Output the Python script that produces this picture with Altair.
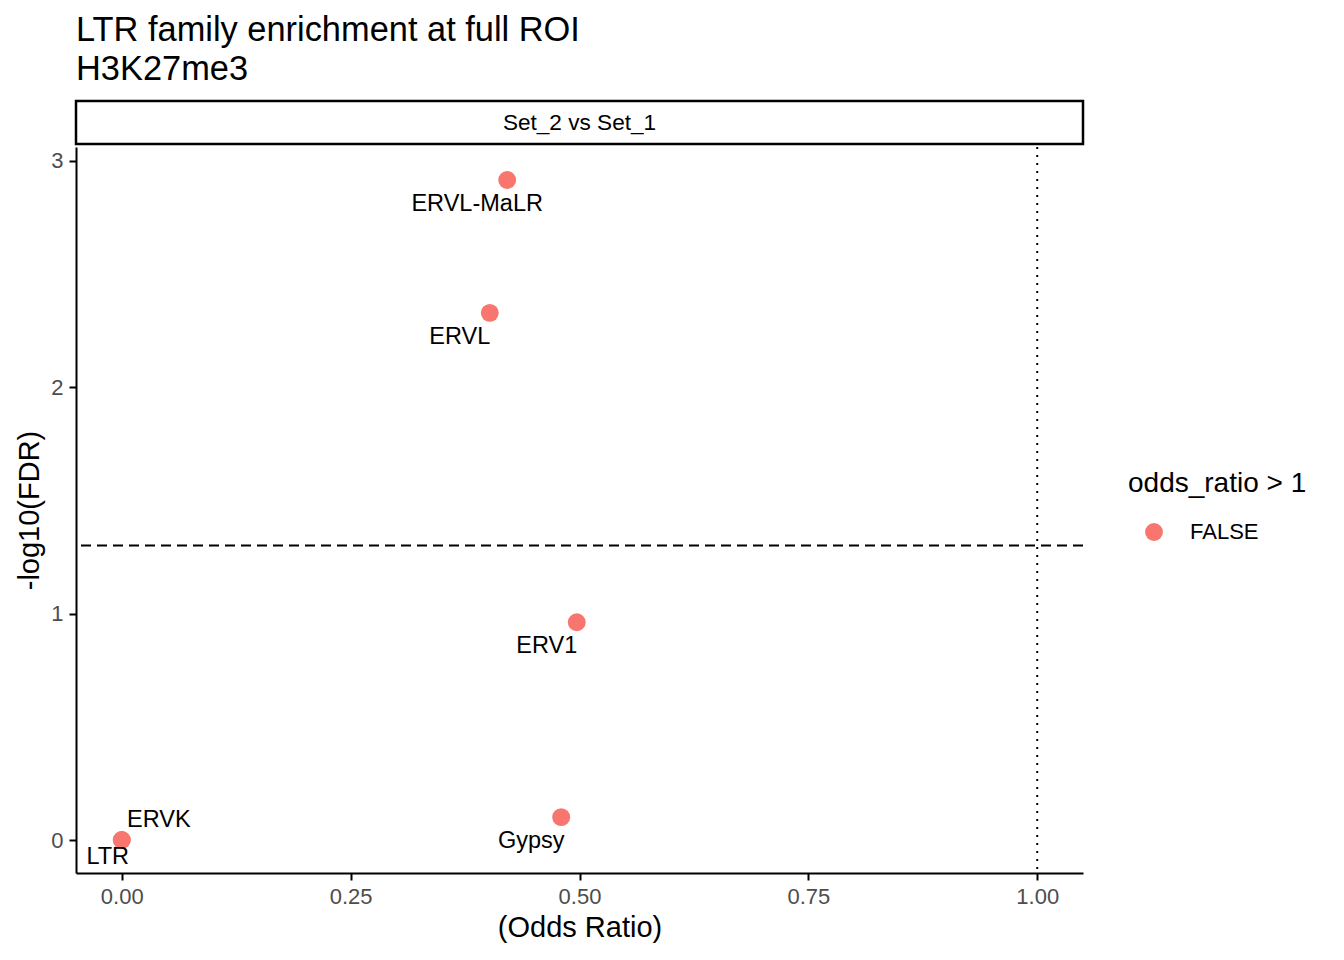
import altair as alt
import pandas as pd

# ---- data ----
families = ["ERVL-MaLR", "ERVL", "ERV1", "Gypsy", "ERVK", "LTR"]
odds_ratio = [0.421, 0.402, 0.497, 0.480, 0.0, 0.0]
neg_log10_fdr = [2.916, 2.329, 0.962, 0.101, 0.0, 0.0]
or_gt_1 = ["FALSE", "FALSE", "FALSE", "FALSE", "FALSE", "FALSE"]
facet_label = ["Set_2 vs Set_1"]
fdr_line = [1.30103]   # -log10(0.05)
or_line = [1.0]
x_ticks = [0.0, 0.25, 0.5, 0.75, 1.0]
y_ticks = [0, 1, 2, 3]

df = pd.DataFrame({
    "family": families,
    "odds_ratio": odds_ratio,
    "fdr": neg_log10_fdr,
    "gt1": or_gt_1,
})

W, H = 1007, 726
FONT = "Liberation Sans"

# ggplot-like 5% expansion
xr = [min(odds_ratio + or_line), max(odds_ratio + or_line)]
xpad = (xr[1] - xr[0]) * 0.05
yr = [min(neg_log10_fdr), max(neg_log10_fdr)]
ypad = (yr[1] - yr[0]) * 0.05

x = alt.X("odds_ratio:Q",
          scale=alt.Scale(domain=[xr[0] - xpad, xr[1] + xpad], nice=False, zero=False),
          axis=alt.Axis(values=x_ticks, format=".2f", title="(Odds Ratio)"))
y = alt.Y("fdr:Q",
          scale=alt.Scale(domain=[yr[0] - ypad, yr[1] + ypad], nice=False, zero=False),
          axis=alt.Axis(values=y_ticks, format="d", title="-log10(FDR)"))

base = alt.Chart(df)

points = base.mark_circle(size=320, opacity=1).encode(
    x=x, y=y,
    color=alt.Color("gt1:N",
                    scale=alt.Scale(domain=["FALSE"], range=["#F8766D"]),
                    legend=alt.Legend(title="odds_ratio > 1", orient="none",
                                      legendX=1052, legendY=369)),
)

hline = alt.Chart(pd.DataFrame({"fdr": fdr_line})).mark_rule(
    color="black", strokeWidth=2, strokeDash=[10, 6]).encode(y="fdr:Q")
vline = alt.Chart(pd.DataFrame({"odds_ratio": or_line})).mark_rule(
    color="black", strokeWidth=2, strokeDash=[2, 6]).encode(x="odds_ratio:Q")

LFS = 23.5
lab_main = base.transform_filter(
    alt.FieldOneOfPredicate(field="family", oneOf=["ERVL-MaLR", "ERVL", "ERV1", "Gypsy"])
).mark_text(fontSize=LFS, font=FONT, color="black", dx=-30, dy=24).encode(
    x=x, y=y, text="family:N")
lab_ervk = base.transform_filter(alt.datum.family == "ERVK").mark_text(
    fontSize=LFS, font=FONT, color="black", dx=37, dy=-20).encode(x=x, y=y, text="family:N")
lab_ltr = base.transform_filter(alt.datum.family == "LTR").mark_text(
    fontSize=LFS, font=FONT, color="black", dx=-14, dy=17).encode(x=x, y=y, text="family:N")

main = alt.layer(hline, vline, points, lab_main, lab_ervk, lab_ltr).properties(
    width=W, height=H)

strip = alt.Chart(pd.DataFrame({"label": facet_label})).mark_text(
    fontSize=22.6, font=FONT, color="black").encode(text="label:N").properties(
    width=W, height=43,
    view=alt.ViewBackground(stroke="black", strokeWidth=2.5, fill="white"))

chart = alt.vconcat(strip, main, spacing=0).properties(
    title=alt.TitleParams(["LTR family enrichment at full ROI", "H3K27me3"],
                          anchor="start", frame="group", fontSize=34.4,
                          fontWeight="normal", color="black", font=FONT,
                          lineHeight=39, offset=12),
    padding={"left": 7, "top": 5, "right": 5, "bottom": 5},
).configure(font=FONT).configure_view(stroke=None).configure_axis(
    grid=False, domainColor="black", domainWidth=2, tickColor="black",
    tickWidth=2, tickSize=7, labelColor="#4D4D4D", labelFontSize=22,
    labelFont=FONT, titleFont=FONT, titleFontSize=29, titleFontWeight="normal",
    titleColor="black", labelPadding=6, titlePadding=6,
).configure_legend(
    titleFontSize=28, titleFontWeight="normal", titleColor="black", titleFont=FONT,
    labelFontSize=22, labelColor="black", labelFont=FONT, symbolSize=320,
    symbolType="circle", symbolOpacity=1, symbolStrokeWidth=0, labelOffset=25,
    titlePadding=23, symbolOffset=15,
)

chart.save("out.html", embed_options={"renderer": "svg", "actions": False})
